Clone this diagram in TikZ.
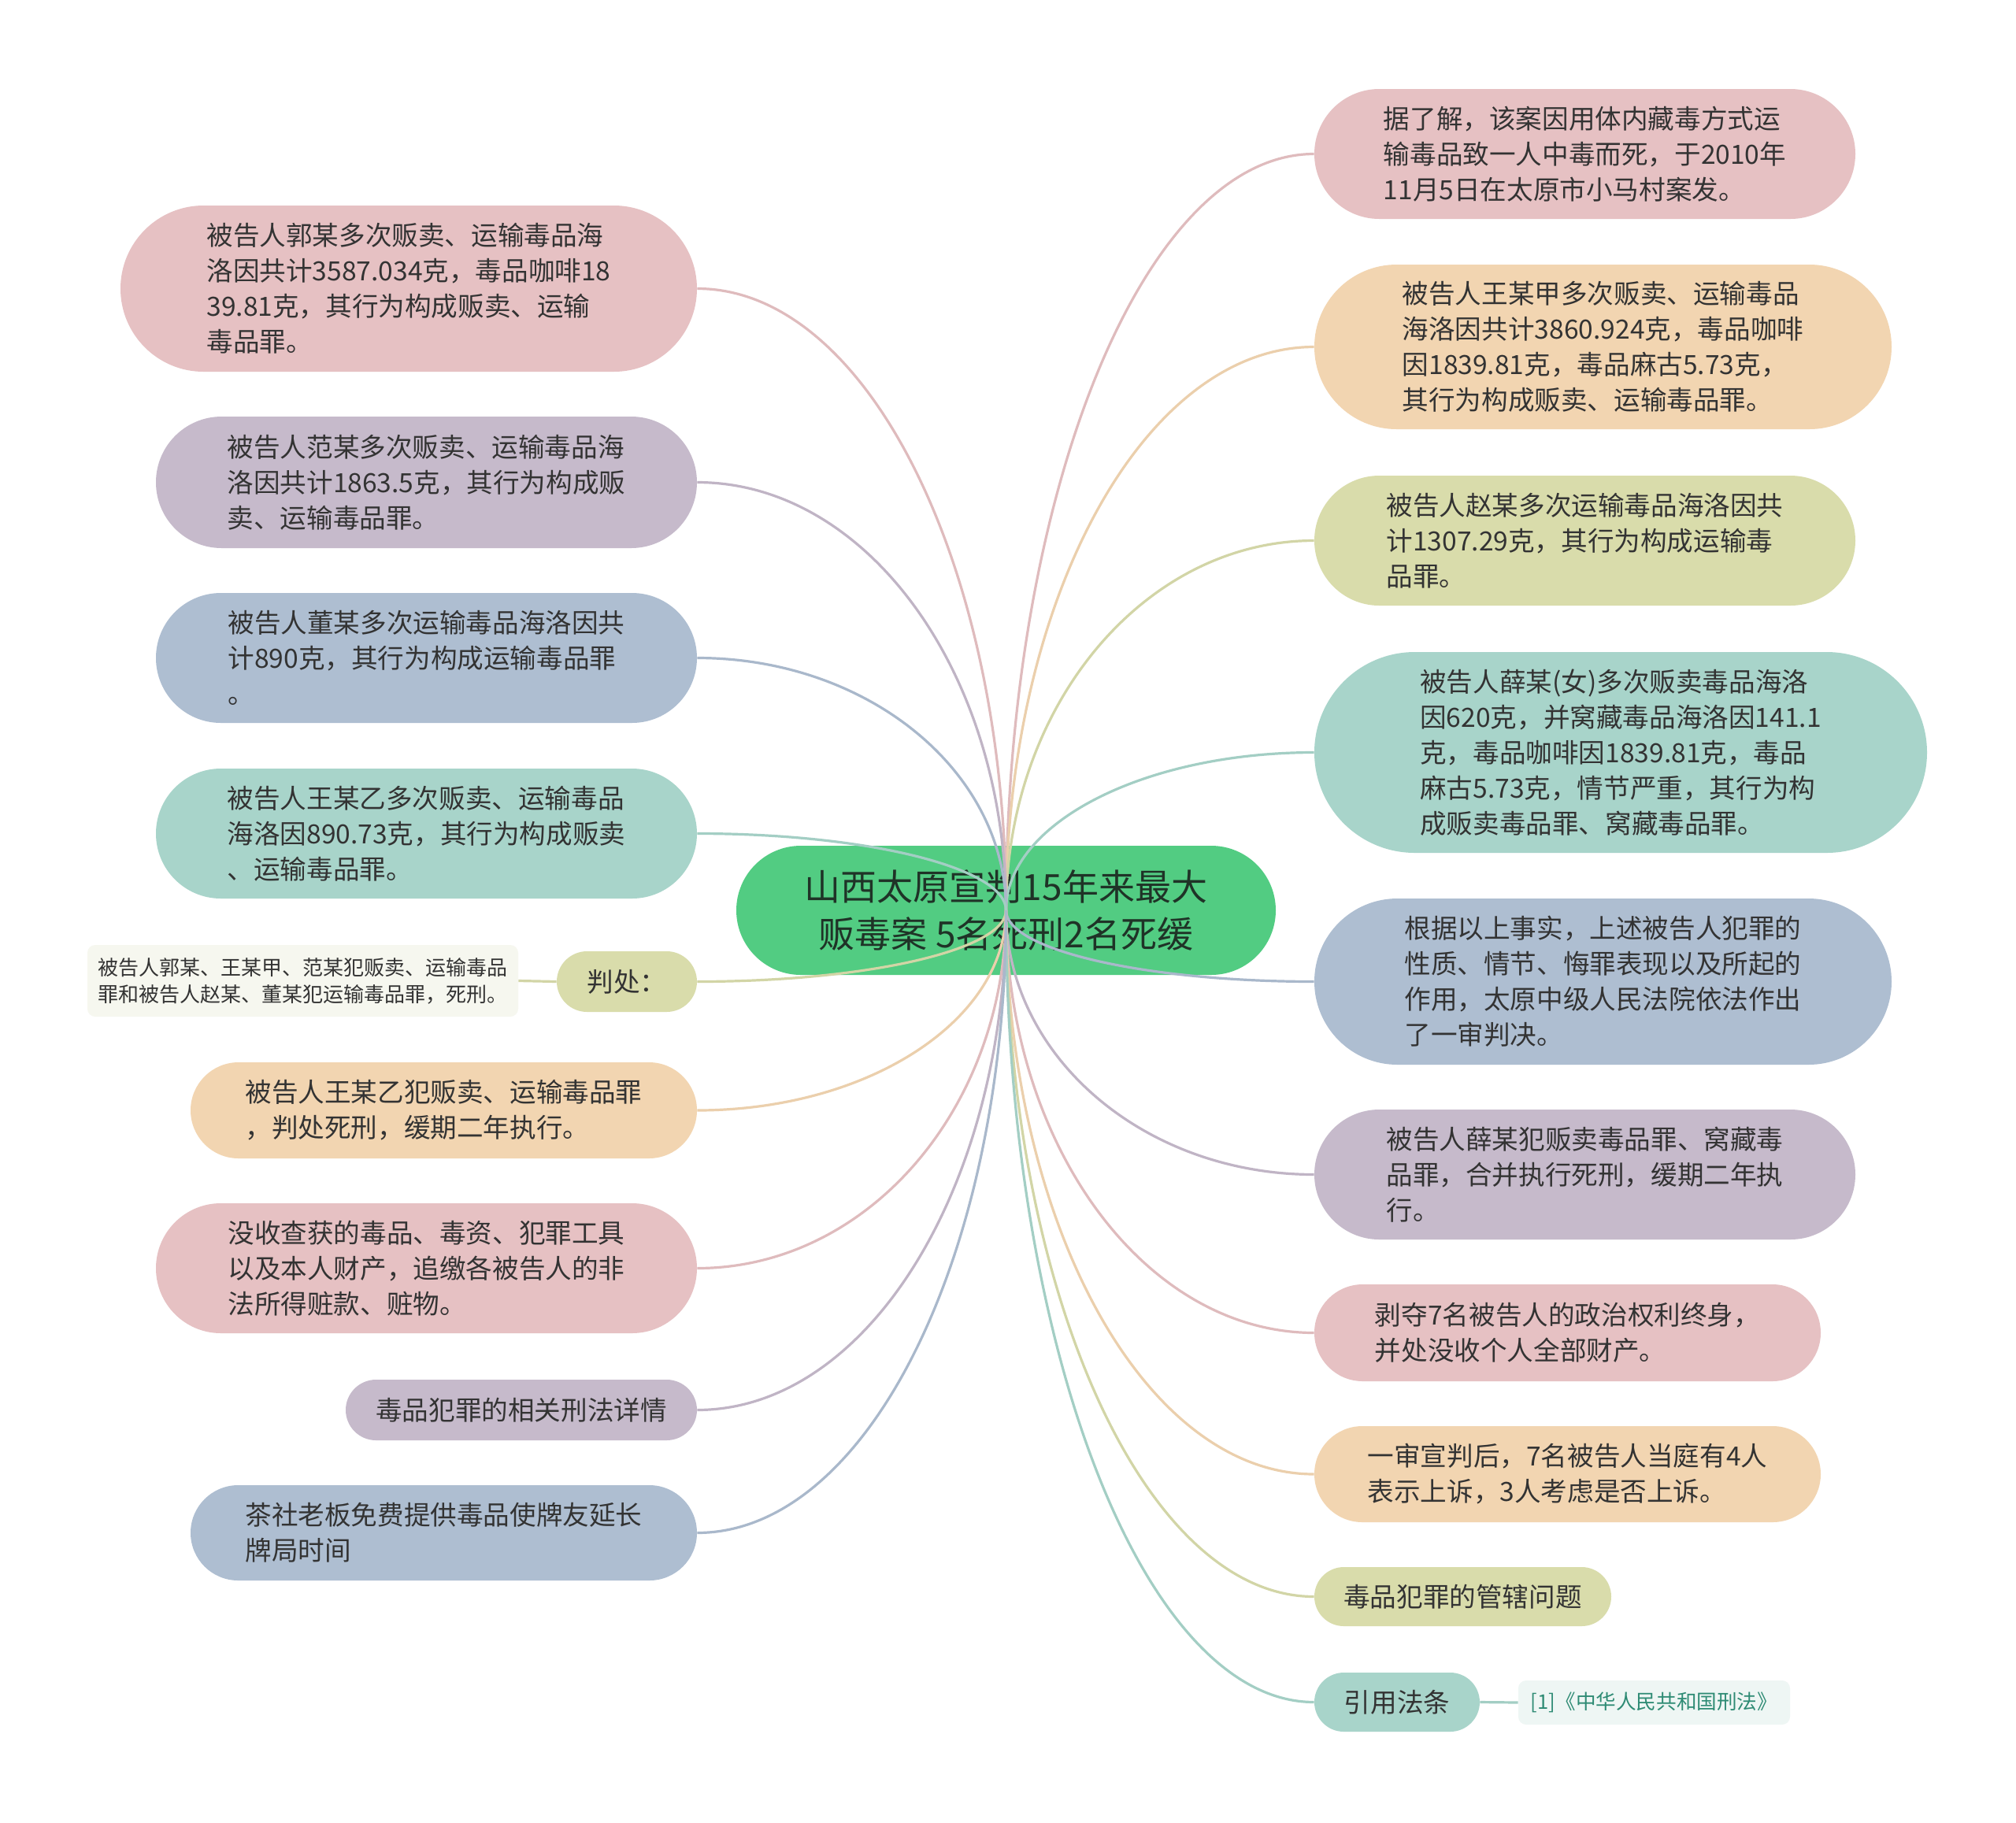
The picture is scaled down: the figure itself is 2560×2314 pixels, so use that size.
\documentclass[tikz,border=0pt]{standalone}
\usepackage{fontspec}
\setmainfont{Noto Sans CJK SC}
\usetikzlibrary{calc}
\definecolor{cpink}{HTML}{E6C1C3}
\definecolor{cpeach}{HTML}{F2D5B1}
\definecolor{colive}{HTML}{D9DCAB}
\definecolor{cteal}{HTML}{A8D4CA}
\definecolor{cblue}{HTML}{AEBED1}
\definecolor{cpurple}{HTML}{C6BACB}
\definecolor{cgreen}{HTML}{52CC82}
\definecolor{txt}{HTML}{333333}
\definecolor{roottxt}{HTML}{1F3327}
\definecolor{leafA}{HTML}{F6F7EF}
\definecolor{leafB}{HTML}{EEF6F4}
\definecolor{leafBtxt}{HTML}{2E8B74}
\newcommand\mmlink[3]{%
  \coordinate (mmk) at (root.center |- #1.#2);
  \draw[link, draw=#3!97!black] (root.center) .. controls ($(root.center)!0.552!(mmk)$) and ($(#1.#2)!0.552!(mmk)$) .. (#1.#2);}
\begin{document}
\begin{tikzpicture}[x=0.5pt,y=-0.5pt,
  box/.style={draw=none, inner sep=0pt, align=left, text=txt, font=\fontsize{16.8pt}{22.5pt}\selectfont},
  link/.style={line width=1.6pt},
  leaf/.style={draw=none, inner sep=0pt, align=left, rounded corners=5pt}]
\useasboundingbox[fill=white] (0,0) rectangle (2560,2314);

% root
\node[draw=none, fill=cgreen, inner sep=0pt, align=center, text=roottxt,
  font=\fontsize{23pt}{30pt}\selectfont, minimum width=342.5pt, minimum height=82pt,
  rounded corners=41pt] (root) at (1277.5,1156) {山西太原宣判15年来最大\\贩毒案 5名死刑2名死缓};

% right side
\node[box, fill=cpink, minimum width=343.5pt, minimum height=82.5pt, rounded corners=41.25pt] (R1) at (2012.5,195.5)
  {据了解，该案因用体内藏毒方式运\\输毒品致一人中毒而死，于2010年\\11月5日在太原市小马村案发。};
\node[box, fill=cpeach, minimum width=366.5pt, minimum height=104.5pt, rounded corners=52.25pt] (R2) at (2035.5,440.5)
  {被告人王某甲多次贩卖、运输毒品\\海洛因共计3860.924克，毒品咖啡\\因1839.81克，毒品麻古5.73克，\\其行为构成贩卖、运输毒品罪。};
\node[box, fill=colive, minimum width=343.5pt, minimum height=82.5pt, rounded corners=41.25pt] (R3) at (2012.5,686.5)
  {被告人赵某多次运输毒品海洛因共\\计1307.29克，其行为构成运输毒\\品罪。};
\node[box, fill=cteal, minimum width=389pt, minimum height=127.5pt, rounded corners=63.75pt] (R4) at (2058,955.5)
  {被告人薛某(女)多次贩卖毒品海洛\\因620克，并窝藏毒品海洛因141.1\\克，毒品咖啡因1839.81克，毒品\\麻古5.73克，情节严重，其行为构\\成贩卖毒品罪、窝藏毒品罪。};
\node[box, fill=cblue, minimum width=366.5pt, minimum height=105.5pt, rounded corners=52.75pt] (R5) at (2035.5,1246.5)
  {根据以上事实，上述被告人犯罪的\\性质、情节、悔罪表现以及所起的\\作用，太原中级人民法院依法作出\\了一审判决。};
\node[box, fill=cpurple, minimum width=343.5pt, minimum height=82.5pt, rounded corners=41.25pt] (R6) at (2012.5,1491.5)
  {被告人薛某犯贩卖毒品罪、窝藏毒\\品罪，合并执行死刑，缓期二年执\\行。};
\node[box, fill=cpink, minimum width=321.5pt, minimum height=61.5pt, rounded corners=30.75pt] (R7) at (1990.5,1692.5)
  {剥夺7名被告人的政治权利终身，\\并处没收个人全部财产。};
\node[box, fill=cpeach, minimum width=321.5pt, minimum height=61pt, rounded corners=30.5pt] (R8) at (1990.5,1872)
  {一审宣判后，7名被告人当庭有4人\\表示上诉，3人考虑是否上诉。};
\node[box, fill=colive, minimum width=188.5pt, minimum height=37.5pt, rounded corners=18.75pt] (R9) at (1857.5,2027.5)
  {毒品犯罪的管辖问题};
\node[box, fill=cteal, minimum width=105pt, minimum height=37.5pt, rounded corners=18.75pt] (R10) at (1774,2161.5)
  {引用法条};
\node[leaf, fill=leafB, text=leafBtxt, font=\fontsize{12.8pt}{16pt}\selectfont, minimum width=172.5pt, minimum height=28pt] (R10leaf) at (2100.5,2162)
  {[1]《中华人民共和国刑法》};

% left side
\node[box, fill=cpink, minimum width=366pt, minimum height=105.5pt, rounded corners=52.75pt] (L1) at (519,366.5)
  {被告人郭某多次贩卖、运输毒品海\\洛因共计3587.034克，毒品咖啡18\\39.81克，其行为构成贩卖、运输\\毒品罪。};
\node[box, fill=cpurple, minimum width=343.5pt, minimum height=83.5pt, rounded corners=41.75pt] (L2) at (541.5,612.5)
  {被告人范某多次贩卖、运输毒品海\\洛因共计1863.5克，其行为构成贩\\卖、运输毒品罪。};
\node[box, fill=cblue, minimum width=343.5pt, minimum height=82.5pt, rounded corners=41.25pt] (L3) at (541.5,835.5)
  {被告人董某多次运输毒品海洛因共\\计890克，其行为构成运输毒品罪\\。};
\node[box, fill=cteal, minimum width=343.5pt, minimum height=82.5pt, rounded corners=41.25pt] (L4) at (541.5,1058.5)
  {被告人王某乙多次贩卖、运输毒品\\海洛因890.73克，其行为构成贩卖\\、运输毒品罪。};
\node[box, fill=colive, minimum width=89pt, minimum height=38.5pt, rounded corners=19.25pt] (L5) at (796,1246.5)
  {判处：};
\node[leaf, fill=leafA, text=txt, font=\fontsize{13pt}{17pt}\selectfont, minimum width=273.5pt, minimum height=45.5pt] (L5leaf) at (384.5,1245.5)
  {被告人郭某、王某甲、范某犯贩卖、运输毒品\\罪和被告人赵某、董某犯运输毒品罪，死刑。};
\node[box, fill=cpeach, minimum width=321.5pt, minimum height=61pt, rounded corners=30.5pt] (L6) at (563.5,1410)
  {被告人王某乙犯贩卖、运输毒品罪\\，判处死刑，缓期二年执行。};
\node[box, fill=cpink, minimum width=343.5pt, minimum height=82.5pt, rounded corners=41.25pt] (L7) at (541.5,1610.5)
  {没收查获的毒品、毒资、犯罪工具\\以及本人财产，追缴各被告人的非\\法所得赃款、赃物。};
\node[box, fill=cpurple, minimum width=223pt, minimum height=38.5pt, rounded corners=19.25pt] (L8) at (662,1790.5)
  {毒品犯罪的相关刑法详情};
\node[box, fill=cblue, minimum width=321.5pt, minimum height=60.5pt, rounded corners=30.25pt] (L9) at (563.5,1946.5)
  {茶社老板免费提供毒品使牌友延长\\牌局时间};

% connectors
\mmlink{R1}{west}{cpink}
\mmlink{R2}{west}{cpeach}
\mmlink{R3}{west}{colive}
\mmlink{R4}{west}{cteal}
\mmlink{R5}{west}{cblue}
\mmlink{R6}{west}{cpurple}
\mmlink{R7}{west}{cpink}
\mmlink{R8}{west}{cpeach}
\mmlink{R9}{west}{colive}
\mmlink{R10}{west}{cteal}
\mmlink{L1}{east}{cpink}
\mmlink{L2}{east}{cpurple}
\mmlink{L3}{east}{cblue}
\mmlink{L4}{east}{cteal}
\mmlink{L5}{east}{colive}
\mmlink{L6}{east}{cpeach}
\mmlink{L7}{east}{cpink}
\mmlink{L8}{east}{cpurple}
\mmlink{L9}{east}{cblue}
\draw[link, draw=colive!97!black] (L5.west) -- (L5leaf.east);
\draw[link, draw=cteal!97!black] (R10.east) -- (R10leaf.west);
\end{tikzpicture}
\end{document}
